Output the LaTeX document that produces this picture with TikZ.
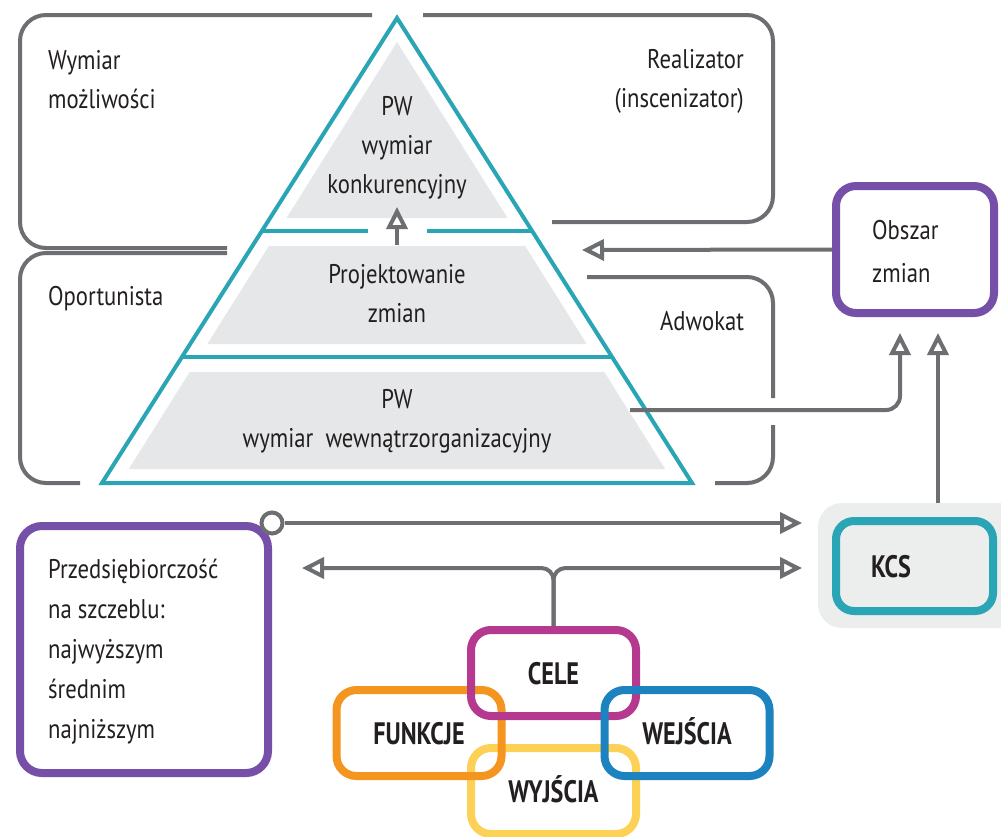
\documentclass[tikz,border=0pt]{standalone}
\usepackage{fontspec}
\setmainfont{PT Sans}[FakeStretch=0.84]
\newfontfamily\labfamily{PT Sans}[FakeStretch=0.78]
\usetikzlibrary{arrows.meta}

\definecolor{linegray}{HTML}{6D6E71}
\definecolor{tealc}{HTML}{2AA5B5}
\definecolor{fillgray}{HTML}{E6E7E8}
\definecolor{kcsgray}{HTML}{ECEDED}
\definecolor{purplec}{HTML}{7650A8}
\definecolor{magc}{HTML}{B5398F}
\definecolor{orangec}{HTML}{F4951F}
\definecolor{bluec}{HTML}{1C83C0}
\definecolor{yellowc}{HTML}{FDD155}
\definecolor{inkc}{HTML}{231F20}

\newcommand\regtext{\fontsize{27}{39}\selectfont}
\newcommand\boldlab{\labfamily\bfseries\fontsize{31}{36}\selectfont}

\begin{document}
\begin{tikzpicture}[x=1pt,y=-1pt,
  frame/.style={draw=linegray, line width=4pt, rounded corners=26pt},
  conn/.style={draw=linegray, line width=4pt},
  openhead/.style={-{Triangle[open,length=22pt,width=21pt]}},
  tri/.style={draw=tealc, line width=4pt},
  txt/.style={font=\regtext, text=inkc, inner sep=0pt, align=left},
  ctxt/.style={font=\regtext, text=inkc, inner sep=0pt, align=center},
  cbox/.style={draw=#1, line width=8pt, rounded corners=20pt,
    minimum width=165pt, minimum height=86pt, inner sep=0pt,
    font=\boldlab, text=inkc, text height=22pt, text depth=0pt}]

\clip (0,0) rectangle (1001,836);
\fill[white] (0,0) rectangle (1001,836);

% role frames around the pyramid
\draw[frame] (372,15) -- (20,15) -- (20,248) -- (227,248);
\draw[frame] (423,15) -- (773,15) -- (773,222) -- (552,222);
\draw[frame] (227,253) -- (20,253) -- (20,483) -- (80,483);
\draw[frame] (587,277) -- (773,277) -- (773,398);
\draw[frame] (773,425) -- (773,483) -- (715,483);

% shaded layers of the pyramid
\fill[fillgray] (397,42) -- (507.5,218) -- (286.5,218) -- cycle;
\fill[fillgray] (268.9,246) -- (525.1,246) -- (586.7,344) -- (207.3,344) -- cycle;
\fill[fillgray] (189.7,372) -- (604.3,372) -- (665.2,469) -- (128.8,469) -- cycle;

% pyramid outline and layer dividers
\draw[tri, line join=miter] (397,18) -- (692,483) -- (102,483) -- cycle;
\draw[tri] (262,231) -- (368,231);
\draw[tri] (427,231) -- (532,231);
\draw[tri] (182,357) -- (612,357);

% upward arrow between layers
\coordinate (upA) at (397,245);
\coordinate (upB) at (397,207);
\draw[conn, openhead] (upA) -- (upB);

% pyramid texts (anchored at the baseline of the last line)
\node[ctxt, anchor=base] (pwtop) at (397,193) {PW\\wymiar\\konkurencyjny};
\node[ctxt, anchor=base] (proj) at (397,322) {Projektowanie\\zmian};
\node[ctxt, anchor=base] (pwbot) at (397,447) {PW\\wymiar\ \ wewnątrzorganizacyjny};

% role labels
\node[txt, anchor=base west] (wymiar) at (48,108) {Wymiar\\możliwości};
\node[txt, align=right, anchor=base east] (realizator) at (744,107) {Realizator\\(inscenizator)};
\node[txt, anchor=base west] (oport) at (48,305) {Oportunista};
\node[txt, anchor=base west] (adw) at (660,330) {Adwokat};

% area of change
\node[draw=purplec, line width=8pt, rounded corners=20pt, fill=white,
  minimum width=158pt, minimum height=127pt, inner sep=0pt] (obszar) at (915,249.5) {};
\node[txt, anchor=base west] (obszartxt) at (872,282) {Obszar\\[4pt]zmian};

\coordinate (tipP) at (582,250);
\draw[conn, openhead] (obszar.west) -- (tipP);

\coordinate (wewS) at (630,410);
\coordinate (tipO1) at (900,333);
\draw[conn, openhead, rounded corners=14pt] (wewS) -| (tipO1);

% KCS
\node[fill=kcsgray, rounded corners=24pt, minimum width=210pt, minimum height=125pt,
  inner sep=0pt] (kcsback) at (923,565.5) {};
\node[draw=tealc, line width=8pt, rounded corners=18pt, minimum width=157pt,
  minimum height=90pt, inner sep=0pt] (kcs) at (914.5,566) {};
\node[font=\boldlab, text=inkc, inner sep=0pt, text height=22pt, text depth=0pt] (kcstxt) at (891,566) {KCS};

\coordinate (kcsup) at (938,503);
\coordinate (tipO2) at (938,333);
\draw[conn, openhead] (kcsup) -- (tipO2);

% entrepreneurship levels
\node[draw=purplec, line width=8pt, rounded corners=22pt, fill=white,
  minimum width=248pt, minimum height=247pt, inner sep=0pt] (przed) at (144,649.5) {};
\node[txt, anchor=base west] (przedtxt) at (48,738)
  {Przedsiębiorczość\\[1pt]na szczeblu:\\[1pt]najwyższym\\[1pt]średnim\\[1pt]najniższym};
\node[circle, draw=linegray, fill=white, line width=4pt, minimum size=21pt, inner sep=0pt] (knot) at (272,523) {};

% interlocking components
\node[cbox=yellowc] (wyj) at (553.5,791) {WYJŚCIA};
\node[cbox=orangec] (funk) at (419,733) {FUNKCJE};
\node[cbox=magc] (cele) at (553.5,673) {CELE};
\node[cbox=bluec] (wej) at (687,733) {WEJŚCIA};

% links to KCS
\coordinate (tipR1) at (802,523);
\draw[conn, openhead] (knot.east) -- (tipR1);
\coordinate (tipL2) at (302,568);
\coordinate (tipR2) at (802,568);
\draw[conn, openhead, rounded corners=12pt] (cele.north) |- (tipL2);
\draw[conn, openhead, rounded corners=12pt] (cele.north) |- (tipR2);

\end{tikzpicture}
\end{document}
